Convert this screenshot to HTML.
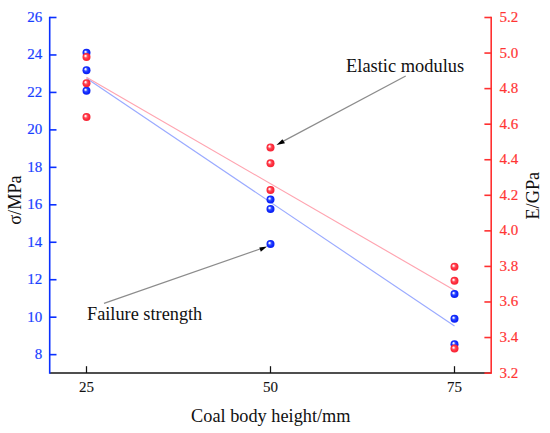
<!DOCTYPE html><html><head><meta charset="utf-8"><style>html,body{margin:0;padding:0;background:#fff;}svg{display:block;}text{font-family:"Liberation Serif",serif;}</style></head><body>
<svg width="550" height="433" viewBox="0 0 550 433">
<defs>
<radialGradient id="gb" cx="0.5" cy="0.5" r="0.5" fx="0.34" fy="0.34"><stop offset="0" stop-color="#ffffff"/><stop offset="0.16" stop-color="#e4e8ff"/><stop offset="0.42" stop-color="#3450ff"/><stop offset="0.7" stop-color="#1028ff"/><stop offset="1" stop-color="#0a20f0"/></radialGradient>
<radialGradient id="gr" cx="0.5" cy="0.5" r="0.5" fx="0.34" fy="0.34"><stop offset="0" stop-color="#ffffff"/><stop offset="0.16" stop-color="#ffe8ea"/><stop offset="0.42" stop-color="#ff5460"/><stop offset="0.7" stop-color="#ff2c3c"/><stop offset="1" stop-color="#f42434"/></radialGradient>
</defs>
<line x1="86.5" y1="78.3" x2="454.5" y2="326.1" stroke="#9aaaff" stroke-width="1.15"/>
<line x1="86.5" y1="77.3" x2="454.5" y2="290.2" stroke="#ffa4b0" stroke-width="1.15"/>
<line x1="49.7" y1="373.0" x2="491.2" y2="373.0" stroke="#141414" stroke-width="1.5"/>
<line x1="49.7" y1="16.7" x2="49.7" y2="373.8" stroke="#0a30ff" stroke-width="1.6"/>
<line x1="491.2" y1="16.7" x2="491.2" y2="373.8" stroke="#ff3030" stroke-width="1.6"/>
<line x1="49.7" y1="354.64" x2="56.5" y2="354.64" stroke="#0a30ff" stroke-width="1.6"/>
<text x="42.2" y="359.14" font-size="15" fill="#1840ff" stroke="#1840ff" stroke-width="0.18" text-anchor="end">8</text>
<line x1="49.7" y1="317.18" x2="56.5" y2="317.18" stroke="#0a30ff" stroke-width="1.6"/>
<text x="42.2" y="321.68" font-size="15" fill="#1840ff" stroke="#1840ff" stroke-width="0.18" text-anchor="end">10</text>
<line x1="49.7" y1="279.72" x2="56.5" y2="279.72" stroke="#0a30ff" stroke-width="1.6"/>
<text x="42.2" y="284.22" font-size="15" fill="#1840ff" stroke="#1840ff" stroke-width="0.18" text-anchor="end">12</text>
<line x1="49.7" y1="242.26" x2="56.5" y2="242.26" stroke="#0a30ff" stroke-width="1.6"/>
<text x="42.2" y="246.76" font-size="15" fill="#1840ff" stroke="#1840ff" stroke-width="0.18" text-anchor="end">14</text>
<line x1="49.7" y1="204.80" x2="56.5" y2="204.80" stroke="#0a30ff" stroke-width="1.6"/>
<text x="42.2" y="209.30" font-size="15" fill="#1840ff" stroke="#1840ff" stroke-width="0.18" text-anchor="end">16</text>
<line x1="49.7" y1="167.34" x2="56.5" y2="167.34" stroke="#0a30ff" stroke-width="1.6"/>
<text x="42.2" y="171.84" font-size="15" fill="#1840ff" stroke="#1840ff" stroke-width="0.18" text-anchor="end">18</text>
<line x1="49.7" y1="129.88" x2="56.5" y2="129.88" stroke="#0a30ff" stroke-width="1.6"/>
<text x="42.2" y="134.38" font-size="15" fill="#1840ff" stroke="#1840ff" stroke-width="0.18" text-anchor="end">20</text>
<line x1="49.7" y1="92.42" x2="56.5" y2="92.42" stroke="#0a30ff" stroke-width="1.6"/>
<text x="42.2" y="96.92" font-size="15" fill="#1840ff" stroke="#1840ff" stroke-width="0.18" text-anchor="end">22</text>
<line x1="49.7" y1="54.96" x2="56.5" y2="54.96" stroke="#0a30ff" stroke-width="1.6"/>
<text x="42.2" y="59.46" font-size="15" fill="#1840ff" stroke="#1840ff" stroke-width="0.18" text-anchor="end">24</text>
<line x1="49.7" y1="17.50" x2="56.5" y2="17.50" stroke="#0a30ff" stroke-width="1.6"/>
<text x="42.2" y="22.00" font-size="15" fill="#1840ff" stroke="#1840ff" stroke-width="0.18" text-anchor="end">26</text>
<line x1="484.4" y1="373.10" x2="491.2" y2="373.10" stroke="#ff3030" stroke-width="1.6"/>
<text x="499.4" y="377.60" font-size="15" fill="#ff3434" stroke="#ff3434" stroke-width="0.18">3.2</text>
<line x1="484.4" y1="337.54" x2="491.2" y2="337.54" stroke="#ff3030" stroke-width="1.6"/>
<text x="499.4" y="342.04" font-size="15" fill="#ff3434" stroke="#ff3434" stroke-width="0.18">3.4</text>
<line x1="484.4" y1="301.98" x2="491.2" y2="301.98" stroke="#ff3030" stroke-width="1.6"/>
<text x="499.4" y="306.48" font-size="15" fill="#ff3434" stroke="#ff3434" stroke-width="0.18">3.6</text>
<line x1="484.4" y1="266.42" x2="491.2" y2="266.42" stroke="#ff3030" stroke-width="1.6"/>
<text x="499.4" y="270.92" font-size="15" fill="#ff3434" stroke="#ff3434" stroke-width="0.18">3.8</text>
<line x1="484.4" y1="230.86" x2="491.2" y2="230.86" stroke="#ff3030" stroke-width="1.6"/>
<text x="499.4" y="235.36" font-size="15" fill="#ff3434" stroke="#ff3434" stroke-width="0.18">4.0</text>
<line x1="484.4" y1="195.30" x2="491.2" y2="195.30" stroke="#ff3030" stroke-width="1.6"/>
<text x="499.4" y="199.80" font-size="15" fill="#ff3434" stroke="#ff3434" stroke-width="0.18">4.2</text>
<line x1="484.4" y1="159.74" x2="491.2" y2="159.74" stroke="#ff3030" stroke-width="1.6"/>
<text x="499.4" y="164.24" font-size="15" fill="#ff3434" stroke="#ff3434" stroke-width="0.18">4.4</text>
<line x1="484.4" y1="124.18" x2="491.2" y2="124.18" stroke="#ff3030" stroke-width="1.6"/>
<text x="499.4" y="128.68" font-size="15" fill="#ff3434" stroke="#ff3434" stroke-width="0.18">4.6</text>
<line x1="484.4" y1="88.62" x2="491.2" y2="88.62" stroke="#ff3030" stroke-width="1.6"/>
<text x="499.4" y="93.12" font-size="15" fill="#ff3434" stroke="#ff3434" stroke-width="0.18">4.8</text>
<line x1="484.4" y1="53.06" x2="491.2" y2="53.06" stroke="#ff3030" stroke-width="1.6"/>
<text x="499.4" y="57.56" font-size="15" fill="#ff3434" stroke="#ff3434" stroke-width="0.18">5.0</text>
<line x1="484.4" y1="17.50" x2="491.2" y2="17.50" stroke="#ff3030" stroke-width="1.6"/>
<text x="499.4" y="22.00" font-size="15" fill="#ff3434" stroke="#ff3434" stroke-width="0.18">5.2</text>
<line x1="86.5" y1="373.0" x2="86.5" y2="366.2" stroke="#111" stroke-width="1.25"/>
<text x="86.5" y="391.9" font-size="15" fill="#111" stroke="#111" stroke-width="0.12" text-anchor="middle">25</text>
<line x1="270.5" y1="373.0" x2="270.5" y2="366.2" stroke="#111" stroke-width="1.25"/>
<text x="270.5" y="391.9" font-size="15" fill="#111" stroke="#111" stroke-width="0.12" text-anchor="middle">50</text>
<line x1="454.5" y1="373.0" x2="454.5" y2="366.2" stroke="#111" stroke-width="1.25"/>
<text x="454.5" y="391.9" font-size="15" fill="#111" stroke="#111" stroke-width="0.12" text-anchor="middle">75</text>
<text x="270.8" y="421.5" font-size="18.3" fill="#111" text-anchor="middle">Coal body height/mm</text>
<text transform="translate(20.6,200) rotate(-90)" x="0" y="0" font-size="18.3" fill="#111" text-anchor="middle">σ/MPa</text>
<text transform="translate(538.8,195.7) rotate(-90)" x="0" y="0" font-size="18.3" fill="#111" text-anchor="middle">E/GPa</text>
<circle cx="86.5" cy="52.8" r="4.0" fill="url(#gb)"/>
<circle cx="86.5" cy="70.2" r="4.0" fill="url(#gb)"/>
<circle cx="86.5" cy="90.7" r="4.0" fill="url(#gb)"/>
<circle cx="270.5" cy="199.5" r="4.0" fill="url(#gb)"/>
<circle cx="270.5" cy="208.9" r="4.0" fill="url(#gb)"/>
<circle cx="270.5" cy="244.0" r="4.0" fill="url(#gb)"/>
<circle cx="454.5" cy="294.0" r="4.0" fill="url(#gb)"/>
<circle cx="454.5" cy="318.7" r="4.0" fill="url(#gb)"/>
<circle cx="454.5" cy="344.2" r="4.0" fill="url(#gb)"/>
<circle cx="86.5" cy="56.9" r="4.0" fill="url(#gr)"/>
<circle cx="86.5" cy="83.2" r="4.0" fill="url(#gr)"/>
<circle cx="86.5" cy="117.0" r="4.0" fill="url(#gr)"/>
<circle cx="270.5" cy="147.4" r="4.0" fill="url(#gr)"/>
<circle cx="270.5" cy="163.3" r="4.0" fill="url(#gr)"/>
<circle cx="270.5" cy="190.0" r="4.0" fill="url(#gr)"/>
<circle cx="454.5" cy="266.7" r="4.0" fill="url(#gr)"/>
<circle cx="454.5" cy="280.8" r="4.0" fill="url(#gr)"/>
<circle cx="454.5" cy="348.6" r="4.0" fill="url(#gr)"/>
<line x1="405.7" y1="76" x2="282" y2="141.9" stroke="#8c8c8c" stroke-width="1.2"/>
<polygon points="276.5,144.9 282.4,139.2 285,143.2" fill="#000"/>
<line x1="104" y1="303.4" x2="260" y2="249" stroke="#8c8c8c" stroke-width="1.2"/>
<polygon points="267,246.6 259.3,247.5 260.8,251.7" fill="#000"/>
<text x="346.1" y="71.6" font-size="18.4" fill="#111">Elastic modulus</text>
<text x="87.0" y="320.4" font-size="18.3" fill="#111">Failure strength</text>
</svg></body></html>
